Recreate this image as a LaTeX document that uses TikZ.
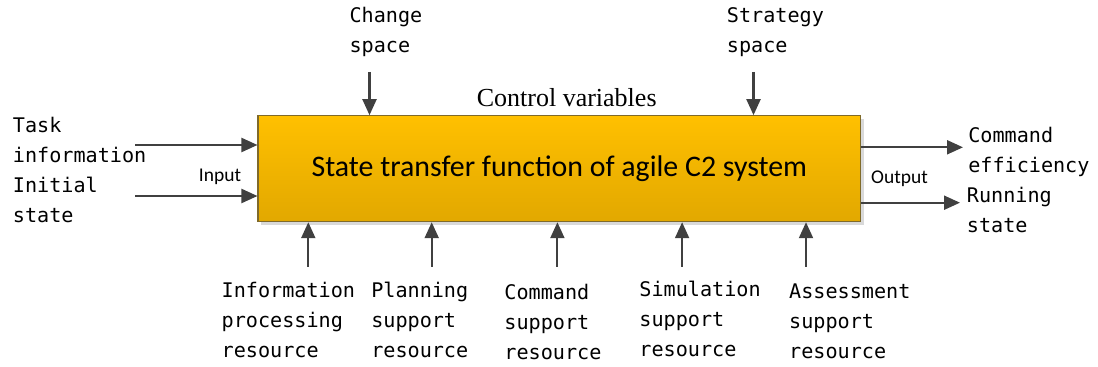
\documentclass[tikz,border=0pt]{standalone}
\usepackage{fontspec}
\setmainfont{Liberation Serif}
\newfontfamily\monof{DejaVu Sans Mono}
\newfontfamily\calif{Carlito}
\usetikzlibrary{arrows.meta,shadows}
\definecolor{arrowgray}{HTML}{404040}
\definecolor{boxtop}{HTML}{FFC000}
\definecolor{boxbot}{HTML}{E2A800}
\definecolor{boxline}{HTML}{7F6A2A}
\begin{document}
\begin{tikzpicture}[x=0.75pt,y=-0.75pt,
  lbl/.style={font=\monof\fontsize{15.1}{22.5}\selectfont, align=left, anchor=base west, inner sep=0pt},
  flow/.style={draw=arrowgray, line width=1.6pt, -{Triangle[length=12pt,width=10.5pt]}},
  smalllbl/.style={font=\calif\fontsize{14.6}{17}\selectfont, anchor=base, inner sep=0pt},
  mainbox/.style={draw=boxline, line width=0.8pt, top color=boxtop, bottom color=boxbot,
    minimum width=452pt, minimum height=79.5pt, inner sep=0pt,
    font=\calif\fontsize{22.4}{27}\selectfont,
    drop shadow={shadow xshift=2.5pt, shadow yshift=-2.5pt, fill=black, opacity=0.15}}]
\useasboundingbox (0,0) rectangle (1098,367);

\node[mainbox] (box) at (559.35,168.7) {State transfer function of agile C2 system};

\node[font=\fontsize{19.5}{23}\selectfont, anchor=base, inner sep=0pt] (ctrl) at (566.7,106.7) {Control variables};
\node[smalllbl] (input) at (220,181.7) {Input};
\node[smalllbl] (output) at (899.5,183.3) {Output};

% labels (anchored at the baseline of their last line)
\node[lbl] (task) at (12.7,162) {Task\\information};
\node[lbl] (init) at (12.7,222) {Initial\\state};
\node[lbl] (change) at (349.3,53) {Change\\space};
\node[lbl] (strategy) at (726.7,53) {Strategy\\space};
\node[lbl] (cmdeff) at (968,172) {Command\\efficiency};
\node[lbl] (running) at (966.7,232) {Running\\state};
\node[lbl] (info) at (221.4,357) {Information\\processing\\resource};
\node[lbl] (plan) at (371,357) {Planning\\support\\resource};
\node[lbl] (command) at (504.2,359) {Command\\support\\resource};
\node[lbl] (sim) at (639.2,356) {Simulation\\support\\resource};
\node[lbl] (assess) at (788.9,358) {Assessment\\support\\resource};

% free ends
\coordinate (in1) at (135,145);
\coordinate (in2) at (135,196);
\coordinate (top1) at (369.5,72);
\coordinate (top2) at (753.5,72);
\coordinate (out1) at (963,147.3);
\coordinate (out2) at (960,202.7);
\coordinate (b1) at (308.3,266.7);
\coordinate (b2) at (431.7,266.7);
\coordinate (b3) at (557.4,266.7);
\coordinate (b4) at (682.1,266.7);
\coordinate (b5) at (806.0,266.7);

\draw[flow] (in1) -- (in1 -| box.west);
\draw[flow] (in2) -- (in2 -| box.west);
\draw[flow] (top1) -- (top1 |- box.north);
\draw[flow] (top2) -- (top2 |- box.north);
\draw[flow] (out1 -| box.east) -- (out1);
\draw[flow] (out2 -| box.east) -- (out2);
\foreach \b in {b1,b2,b3,b4,b5}{
  \draw[flow] (\b) -- (\b |- box.south);
}
\end{tikzpicture}
\end{document}
